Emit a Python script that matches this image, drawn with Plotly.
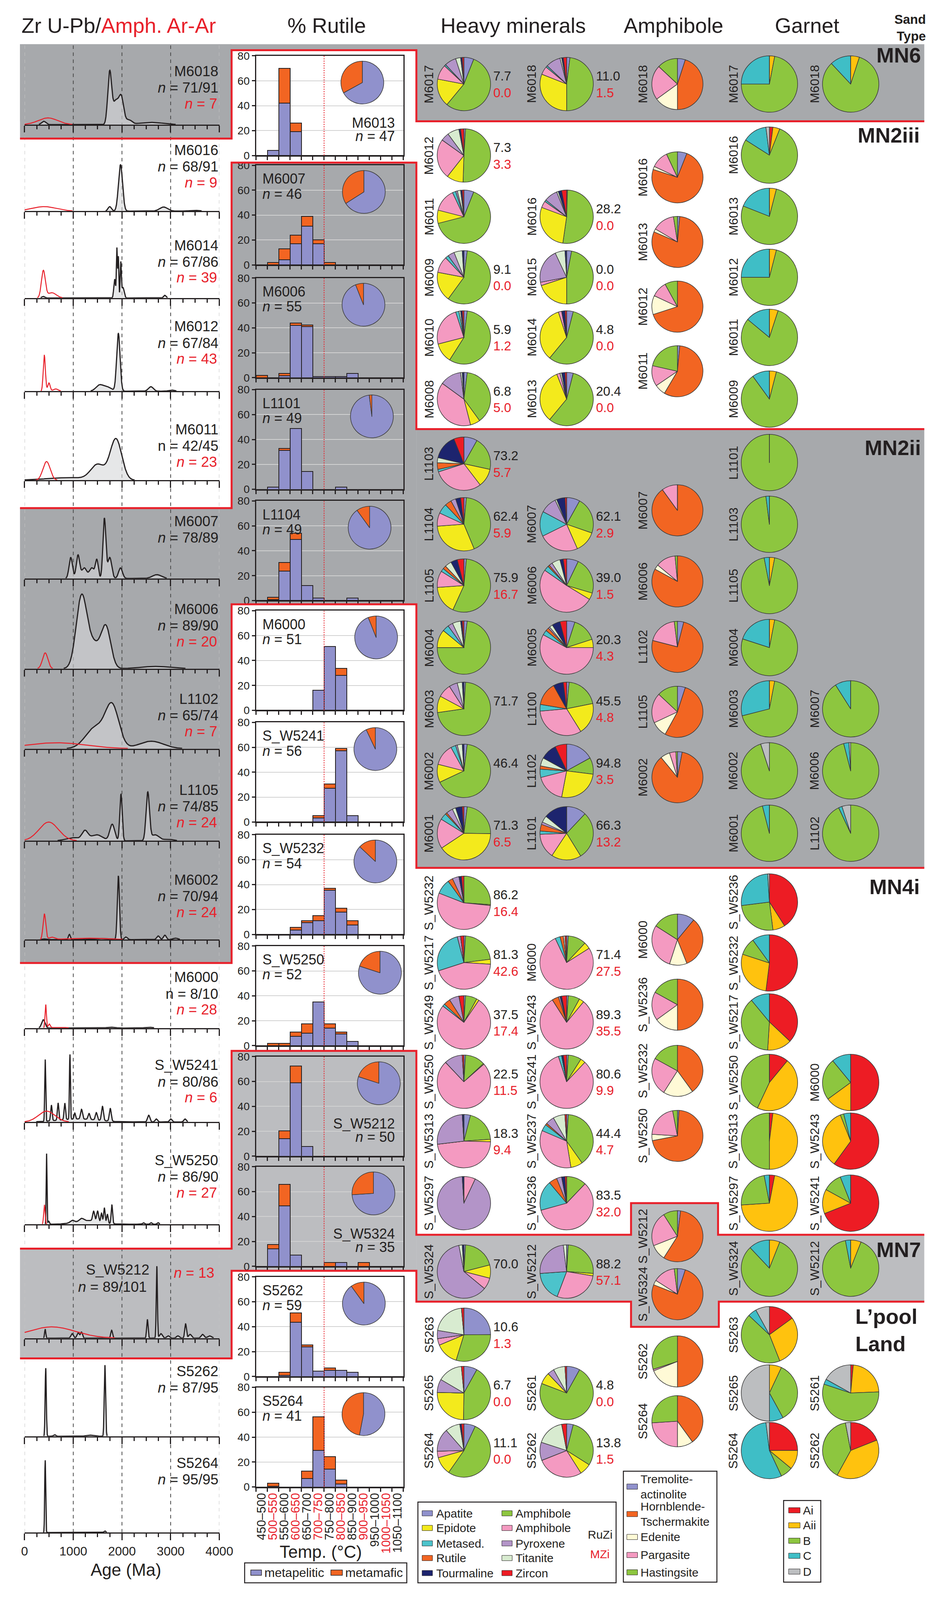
import numpy as np
import plotly.graph_objects as go

W, H = 2435, 4224
INK = "#231F20"
RED = "#E8202A"
GREY = "#A7A9AC"
GREY_MN7 = "#BCBDC0"
FONT = "Liberation Sans, Arial, Helvetica, sans-serif"

# ======================= DATA =======================
# --- Zircon U-Pb / amphibole Ar-Ar KDEs (peak components:
#     (age Ma, relative density, kernel width Ma)) ---
KDE_SAMPLES = ["M6018", "M6016", "M6014", "M6012", "M6011", "M6007", "M6006", "L1102",
               "L1105", "M6002", "M6000", "S_W5241", "S_W5250", "S_W5212", "S5262", "S5264"]
KDE_ZR_N = ["71/91", "68/91", "67/86", "67/84", "42/45", "78/89", "89/90", "65/74",
            "74/85", "70/94", "8/10", "80/86", "86/90", "89/101", "87/95", "95/95"]
KDE_AR_N = ["7", "9", "39", "43", "23", None, "20", "7", "24", "24", "28", "6", "27", "13", None, None]
KDE_N_UPRIGHT = ["M6011", "M6000"]
ZR_PEAKS = [
    [(394, 0.045, 45), (1748, 0.70, 40), (1870, 0.30, 55), (1985, 0.36, 50), (2140, 0.06, 60), (2600, 0.03, 250)],
    [(1749, 0.06, 35), (1970, 0.62, 42), (2854, 0.055, 80), (3500, 0.01, 100)],
    [(385, 0.02, 30), (1850, 0.25, 18), (1895, 0.66, 10), (1925, 0.55, 10), (1975, 0.46, 12), (2020, 0.14, 25), (2880, 0.035, 25)],
    [(1528, 0.07, 70), (1680, 0.06, 90), (1926, 0.77, 35), (2594, 0.06, 50), (3020, 0.015, 60)],
    [(900, 0.035, 450), (1500, 0.20, 140), (1876, 0.55, 120)],
    [(948, 0.28, 35), (1097, 0.31, 35), (1225, 0.14, 50), (1380, 0.14, 50), (1484, 0.24, 30), (1639, 0.80, 30),
     (1749, 0.28, 40), (1970, 0.14, 40), (2716, 0.05, 90)],
    [(1170, 0.96, 110), (1420, 0.30, 120), (1670, 0.55, 100), (2700, 0.03, 300)],
    [(1450, 0.28, 200), (1800, 0.55, 140), (2600, 0.10, 250)],
    [(1000, 0.04, 150), (1240, 0.12, 60), (1480, 0.08, 120), (1800, 0.22, 50), (1980, 0.62, 25), (2530, 0.64, 35),
     (2680, 0.08, 80), (2950, 0.02, 100)],
    [(395, 0.01, 40), (920, 0.07, 20), (1500, 0.015, 200), (1926, 0.85, 22), (2080, 0.035, 30), (2743, 0.05, 30),
     (2881, 0.06, 30), (3100, 0.02, 50)],
    [(385, 0.11, 35), (1777, 0.01, 80), (2550, 0.01, 80)],
    [(423, 0.83, 10), (550, 0.21, 15), (688, 0.23, 15), (826, 0.22, 15), (931, 0.87, 10), (1031, 0.08, 15),
     (1100, 0.04, 400), (1169, 0.13, 20), (1324, 0.08, 20), (1473, 0.10, 20), (1600, 0.19, 20), (1760, 0.17, 20),
     (2550, 0.09, 25), (2705, 0.04, 25), (3003, 0.04, 25), (3296, 0.04, 25)],
    [(451, 0.95, 8), (495, 0.04, 15), (976, 0.03, 40), (1169, 0.035, 40), (1300, 0.05, 250), (1418, 0.13, 20),
     (1500, 0.14, 20), (1580, 0.12, 15), (1638, 0.20, 15), (1700, 0.12, 15), (1793, 0.25, 15), (2440, 0.02, 20),
     (2600, 0.02, 20), (2743, 0.02, 20)],
    [(423, 0.12, 12), (976, 0.06, 25), (1100, 0.07, 25), (1169, 0.08, 20), (1788, 0.105, 18), (2522, 0.25, 15),
     (2716, 0.96, 12), (2800, 0.06, 30), (2950, 0.03, 30), (3150, 0.03, 30), (3307, 0.19, 18), (3400, 0.05, 30),
     (3655, 0.05, 30), (3800, 0.03, 40)],
    [(434, 0.91, 12), (617, 0.02, 25), (1300, 0.01, 60), (1390, 0.01, 60), (1650, 0.95, 14)],
    [(423, 0.97, 10), (1650, 0.02, 20)],
]
AR_PEAKS = [
    [(480, 0.09, 200)],
    [(400, 0.06, 250)],
    [(385, 0.36, 40), (560, 0.07, 90)],
    [(405, 0.48, 22), (500, 0.11, 25), (640, 0.03, 50)],
    [(451, 0.25, 75)],
    [],
    [(423, 0.21, 55)],
    [(650, 0.08, 600)],
    [(495, 0.25, 200)],
    [(407, 0.34, 28), (560, 0.03, 60), (1300, 0.02, 400)],
    [(434, 0.31, 14), (506, 0.05, 20), (700, 0.01, 150)],
    [(451, 0.145, 170)],
    [(407, 0.26, 15)],
    [(560, 0.15, 480)],
    [],
    [],
]
AGE_TICKS = [0, 1000, 2000, 3000, 4000]

# --- Rutile thermometry (% per temperature bin) ---
TEMP_BINS = ["450–500", "500–550", "550–600", "600–650", "650–700", "700–750", "750–800",
             "800–850", "850–900", "900–950", "950–1000", "1000–1050", "1050–1100"]
RUT_SAMPLES = ["M6013", "M6007", "M6006", "L1101", "L1104", "M6000", "S_W5241", "S_W5232",
               "S_W5250", "S_W5212", "S_W5324", "S5262", "S5264"]
RUT_N = [47, 46, 55, 49, 49, 51, 56, 54, 52, 50, 35, 59, 41]
RUT_METAPELITIC = [
    [0, 4, 42, 19, 0, 0, 0, 0, 0, 0, 0, 0, 0],
    [0, 0, 4, 17, 31, 17, 0, 0, 0, 0, 0, 0, 0],
    [0, 0, 1.5, 42, 41, 1, 1, 1, 3.5, 0, 0, 0, 0],
    [0, 2, 31.5, 49, 14.5, 0, 0, 2, 0, 0, 0, 0, 0],
    [0, 0.5, 23.5, 49, 12, 2, 0, 0, 2, 0, 0, 0, 0],
    [0, 0, 0, 0, 0, 16, 51, 28, 0, 0, 0, 0, 0],
    [0, 0, 0, 0, 0, 3, 27, 57, 5, 0, 0, 0, 0],
    [0, 0, 0, 3.5, 9.5, 11, 35.5, 18, 7.5, 0, 0, 0, 0],
    [0, 0, 0, 7.5, 10, 35, 14, 9.5, 3.5, 0, 0, 0, 0],
    [0, 0, 14, 59, 8, 0, 0, 0, 0, 0, 0, 0, 0],
    [0, 14, 48.5, 9, 0, 0, 0, 3, 0, 0, 0, 0, 0],
    [0, 0, 1, 43.5, 24, 4.5, 5, 5, 3.5, 0, 0, 0, 0],
    [0, 0.5, 0, 0, 7, 29.5, 14.5, 2.5, 0, 0, 0, 0, 0],
]
RUT_METAMAFIC = [
    [0, 0, 28, 7, 0, 0, 0, 0, 0, 0, 0, 0, 0],
    [0, 2, 9, 7, 8, 3, 2, 0, 0, 0, 0, 0, 0],
    [2, 0, 2, 2, 1.5, 0, 0, 0, 0, 0, 0, 0, 0],
    [0, 0, 1.5, 0, 0, 0, 0, 0, 0, 0, 0, 0, 0],
    [0, 2, 7, 5, 0, 0, 0, 0, 0, 0, 0, 0, 0],
    [0, 0, 0, 0, 0, 0, 0, 5.5, 0, 0, 0, 0, 0],
    [0, 0, 0, 0, 0, 2, 3.5, 2, 0, 0, 0, 0, 0],
    [0, 0, 0, 2, 1.5, 4, 1.5, 3, 3.5, 0, 0, 0, 0],
    [0, 2, 2, 3.5, 7.5, 0, 3.5, 1.5, 0, 0, 0, 0, 0],
    [0, 0, 6.5, 13.5, 0, 0, 0, 0, 0, 0, 0, 0, 0],
    [0, 3.5, 17.5, 0, 0, 0, 3, 0, 0, 3, 0, 0, 0],
    [0, 0, 2.5, 7.5, 1.5, 0, 2, 0, 0, 0, 0, 0, 0],
    [0, 2.5, 0, 0, 6, 27, 10, 3, 0, 0, 0, 0, 0],
]
RUT_MAFIC_SHARE = [33, 34, 6, 2, 10, 6, 7, 13, 20, 20, 26, 10, 47]
RUT_THRESHOLD_BIN = 5.5   # 750 °C boundary

# --- Heavy minerals (% of each component) ---
HM_MINERALS = ["Apatite", "Amphibole (green)", "Epidote", "Amphibole (pink)", "Metased.",
               "Rutile", "Pyroxene", "Titanite", "Tourmaline", "Zircon"]
HM_SAMPLES = ["M6017", "M6018", "M6012", "M6011", "M6009", "M6010", "M6008", "M6016", "M6015", "M6014", "M6013",
              "L1103", "L1104", "L1105", "M6004", "M6003", "M6002", "M6001", "M6007", "M6006", "M6005", "L1100",
              "L1102", "L1101", "S_W5232", "S_W5217", "S_W5249", "S_W5250", "S_W5313", "S_W5297", "M6000",
              "S_W5243", "S_W5241", "S_W5237", "S_W5236", "S_W5324", "S_W5212", "S5263", "S5265", "S5264",
              "S5261", "S5262"]
HM_PERCENT = [
    [6, 55, 17, 9, 1, 0, 7, 3, 1, 1], [2, 48, 31, 5, 1, 0, 9, 1, 1, 2], [1, 49, 10, 24, 0, 0, 5, 7, 1, 2],
    [6, 65, 8, 14, 2, 0, 1, 2, 1, 1], [2, 58, 18, 10, 2, 0, 4, 5, 1, 0], [2, 57, 12, 24, 2, 0, 0, 1, 1, 1],
    [2, 38, 6, 39, 0, 0, 13, 1, 1, 0], [0.5, 51, 28, 4, 1, 0, 8, 1, 2, 3], [3, 47, 20, 2, 0, 0, 21, 6, 1, 0],
    [4, 57, 34, 2, 0, 0, 0, 0, 2, 1], [4, 57, 33, 2, 0, 0, 0, 1, 2, 1],
    [8, 20, 11, 30, 1.5, 4, 0, 3, 15, 6], [1.5, 42, 30, 8, 6, 4, 3, 0, 3, 2], [1.5, 55, 17, 10, 2, 2, 0, 4, 4, 4],
    [2, 73, 11, 0, 4, 0, 3, 5, 1, 1], [1, 71, 10, 8, 0, 0, 5, 3, 1, 0], [2, 66, 11, 13, 3, 0, 1, 3, 1, 0],
    [2, 23, 40, 18, 4, 1, 4, 2, 4, 1], [8, 22, 13, 24, 15, 0, 10, 1, 5, 1], [7, 22, 4, 50, 3, 1, 2, 5, 2, 2],
    [5, 15, 5, 58, 3, 2, 1, 2, 5, 4], [1.5, 20, 19, 32, 4, 14, 0, 0, 6, 2], [17, 10, 26, 18, 5, 2, 0, 5, 10, 7],
    [12, 29, 18, 15, 2, 4, 1.5, 4, 14, 0],
    [0, 26, 0.5, 54, 9, 3, 4, 0, 1.5, 1.5], [1, 22, 3, 44, 26, 0, 2, 0, 0, 2], [1, 7, 1.5, 76, 1.5, 4, 6, 0, 0, 3],
    [1, 12, 0.5, 74, 0, 0, 11, 0, 0, 1], [4, 20, 1.5, 48, 0, 0, 26, 0, 1, 0], [0, 0, 0, 7, 0, 0, 92, 0, 1, 0],
    [1, 11, 4, 77, 3, 2, 0, 1, 0, 1], [1, 7, 3, 80, 0, 4, 1, 0, 1, 3], [1, 8, 3, 83, 2, 0, 0, 0, 1, 2],
    [1, 38, 7, 33, 4, 1, 5, 7, 0, 1], [0, 12, 0, 58, 18, 5, 3, 0, 2, 1],
    [1, 20, 8, 7, 0, 0, 61, 2, 1, 0], [1, 25, 1.5, 28, 18, 0, 24, 2, 0, 0],
    [25, 30, 14, 4, 0, 0, 5, 21, 0, 1.5], [8, 42, 25, 0, 0, 0, 8, 15, 0, 1.5], [7, 53, 11, 4, 0, 0, 14, 9, 1, 1.5],
    [8, 72, 7, 0, 0, 0, 4, 7, 0, 1], [4, 30, 7, 28, 0, 0, 11, 17, 0, 3],
]
HM_RUZI = ["7.7", "11.0", "7.3", None, "9.1", "5.9", "6.8", "28.2", "0.0", "4.8", "20.4",
           "73.2", "62.4", "75.9", None, "71.7", "46.4", "71.3", "62.1", "39.0", "20.3", "45.5", "94.8", "66.3",
           "86.2", "81.3", "37.5", "22.5", "18.3", None, "71.4", "89.3", "80.6", "44.4", "83.5",
           "70.0", "88.2", "10.6", "6.7", "11.1", "4.8", "13.8"]
HM_MZI = ["0.0", "1.5", "3.3", None, "0.0", "1.2", "5.0", "0.0", "0.0", "0.0", "0.0",
          "5.7", "5.9", "16.7", None, None, None, "6.5", "2.9", "1.5", "4.3", "4.8", "3.5", "13.2",
          "16.4", "42.6", "17.4", "11.5", "9.4", None, "27.5", "35.5", "9.9", "4.7", "32.0",
          None, "57.1", "1.3", "0.0", "0.0", "0.0", "1.5"]

# --- Amphibole composition (%) ---
AMPH_TYPES = ["Tremolite-actinolite", "Hornblende-Tschermakite", "Edenite", "Pargasite", "Hastingsite"]
AMPH_SAMPLES = ["M6018", "M6016", "M6013", "M6012", "M6011", "M6007", "M6006", "L1102", "L1105", "M6002",
                "M6000", "S_W5236", "S_W5232", "S_W5250", "S_W5212", "S_W5324", "S5262", "S5264"]
AMPH_PERCENT = [
    [5, 45, 15, 22, 13], [6, 74, 2, 11, 7], [1.5, 80, 2, 14, 2.5], [0, 70, 12, 10, 8], [1.5, 57, 7, 13, 21.5],
    [0, 90, 0, 10, 0], [0, 83, 3, 12.5, 1.5], [4, 75, 0, 19, 2], [5, 53, 10, 19, 13], [3, 86, 6, 4, 1],
    [11, 33, 11, 29, 16], [0, 50, 15, 18, 17], [0, 40, 19, 24, 17], [1, 71, 4, 21, 3],
    [2, 57, 10, 22, 9], [5, 76, 3, 14, 2], [0, 50, 19, 1, 30], [0, 40, 10, 24, 26],
]

# --- Garnet types (%) ---
GARNET_TYPES = ["Ai", "Aii", "B", "C", "D"]
GARNET_SAMPLES = ["M6017", "M6018", "M6016", "M6013", "M6012", "M6011", "M6009",
                  "L1101", "L1103", "L1105", "M6004", "M6003", "M6002", "M6001", "M6007", "M6006", "L1102",
                  "S_W5236", "S_W5232", "S_W5217", "S_W5250", "S_W5313", "S_W5297", "M6000", "S_W5243", "S_W5241",
                  "S_W5324", "S_W5212", "S5263", "S5265", "S5264", "S5261", "S5262"]
GARNET_PERCENT = [
    [0, 3, 72, 25, 0], [0, 5, 83, 12, 0], [2, 4, 78, 14, 2], [0, 4, 77, 19, 0], [0, 4, 71, 25, 0],
    [0, 5, 81, 14, 0], [0, 4, 86, 10, 0],
    [0, 0, 100, 0, 0], [0, 0, 98, 2, 0], [0, 3, 94, 3, 0], [0, 3, 77, 20, 0], [0, 3, 68, 29, 0],
    [0, 0, 95, 0, 5], [0, 0, 96, 4, 0], [0, 0, 91, 9, 0], [0, 0, 96, 3, 1], [0, 0, 93, 2, 5],
    [41, 7, 25, 26, 1], [52, 28, 10, 10, 0], [37, 14, 38, 11, 0], [11, 46, 43, 0, 0], [2, 48, 50, 0, 0],
    [3, 71, 23, 3, 0], [50, 15, 24, 11, 0], [60, 34, 2, 4, 0], [69, 14, 11, 6, 0],
    [0, 6, 82, 12, 0], [0, 6, 91, 3, 0],
    [15, 29, 43, 5, 8], [0, 7, 35, 8, 50], [25, 11, 7, 55, 2], [1.5, 23, 56, 3, 17], [19, 39, 39, 0, 3],
]

SAND_TYPES = ["MN6", "MN2iii", "MN2ii", "MN4i", "MN7", "L’pool<br>Land"]

# ======================= STYLE / LAYOUT =======================
C_PEL = "#9091CC"
C_MAF = "#F26522"
HM_COLORS = ["#9091CC", "#8DC63F", "#F3EA1C", "#F49AC1", "#4CC3CB", "#F26522", "#B394C8", "#D8EBD0", "#1D246E", "#ED1C24"]
AMPH_COLORS = ["#9091CC", "#F26522", "#FFFAD6", "#F49AC1", "#8DC63F"]
GARNET_COLORS = ["#ED1C24", "#FFC20E", "#8DC63F", "#3FBEC6", "#BCBEC0"]

KDE_X0, KDE_X1 = 55, 563
KDE_BASE = [316, 546, 777, 1025, 1262, 1523, 1763, 1976, 2221, 2484, 2719, 2969, 3241, 3544, 3805, 4061]
KDE_PANEL_H = 205
KDE_LABEL_TOP = [-142, -162, -140, -172, -135, -152, -158, -132, -135, -159, -135, -151, -170, None, -173, -185]

RUT_X0, RUT_X1 = 659, 1043
RUT_TOP = [133, 424, 724, 1021, 1317, 1609, 1906, 2205, 2501, 2795, 3088, 3381, 3675]
RUT_H = 265
RUT_PIE_X = [936, 940, 939, 961, 955, 972, 970, 970, 982, 979, 965, 940, 939]
RUT_LABEL_BR = ["M6013", "S_W5212", "S_W5324"]

HM_COL_X = [1201, 1469]
HM_POS = [(0, 208), (1, 208), (0, 398), (0, 561), (0, 722), (0, 882), (0, 1046), (1, 561), (1, 722), (1, 882),
          (1, 1046), (0, 1218), (0, 1379), (0, 1542), (0, 1707), (0, 1870), (0, 2035), (0, 2201), (1, 1379),
          (1, 1542), (1, 1707), (1, 1870), (1, 2035), (1, 2201), (0, 2386), (0, 2545), (0, 2704), (0, 2862),
          (0, 3020), (0, 3185), (1, 2545), (1, 2704), (1, 2862), (1, 3020), (1, 3185), (0, 3367), (1, 3367),
          (0, 3535), (0, 3690), (0, 3843), (1, 3690), (1, 3843)]
AMPH_X = 1758
AMPH_Y = [208, 456, 628, 800, 972, 1342, 1531, 1705, 1878, 2052, 2484, 2657, 2833, 3006, 3273, 3427, 3606, 3765]
GAR_COL_X = [1998, 2210]
GAR_POS = [(0, 208), (1, 208), (0, 397), (0, 560), (0, 722), (0, 882), (0, 1046),
           (0, 1215), (0, 1379), (0, 1542), (0, 1707), (0, 1870), (0, 2035), (0, 2201), (1, 1870), (1, 2035),
           (1, 2201), (0, 2384), (0, 2546), (0, 2703), (0, 2864), (0, 3020), (0, 3185), (1, 2864), (1, 3020),
           (1, 3185), (0, 3358), (1, 3358), (0, 3535), (0, 3690), (0, 3843), (1, 3690), (1, 3843)]
SAND_POS = [(2394, 131, "right"), (2391, 344, "right"), (2394, 1175, "right"), (2391, 2343, "right"),
            (2394, 3309, "right"), (2221, 3523, "left")]

fig = go.Figure()
layout = dict(width=W, height=H, margin=dict(l=0, r=0, t=0, b=0, pad=0), paper_bgcolor="white",
              plot_bgcolor="rgba(0,0,0,0)", showlegend=False, barmode="stack", bargap=0,
              font=dict(family=FONT, color=INK))
shapes, annotations = [], []


def fx(x):
    return x / W


def fy(y):
    return 1 - y / H


def text(x, y, s, size=30, color=INK, xanchor="center", yanchor="middle", angle=0):
    annotations.append(dict(x=fx(x), y=fy(y), xref="paper", yref="paper", text=s, showarrow=False,
                            font=dict(size=size, color=color, family=FONT), xanchor=xanchor, yanchor=yanchor,
                            align=("left" if xanchor == "left" else "right" if xanchor == "right" else "center"),
                            textangle=angle, borderpad=0))


def rect(x0, y0, x1, y1, fill, line_color=None, lw=0, layer="below"):
    shapes.append(dict(type="rect", xref="paper", yref="paper", x0=fx(x0), x1=fx(x1), y0=fy(y1), y1=fy(y0),
                       fillcolor=fill, line=dict(color=line_color or fill, width=lw), layer=layer))


def polyline(pts, color=RED, lw=5):
    d = "M" + " L".join(f"{fx(x):.5f},{fy(y):.5f}" for x, y in pts)
    shapes.append(dict(type="path", xref="paper", yref="paper", path=d, line=dict(color=color, width=lw),
                       layer="above"))


def pie(values, colors, cx, cy, r, lw=1.5):
    fig.add_trace(go.Pie(values=values, marker=dict(colors=colors, line=dict(color="#3A3A3A", width=lw)),
                         sort=False, direction="clockwise", rotation=0, textinfo="none", hoverinfo="skip",
                         showlegend=False,
                         domain=dict(x=[fx(cx - r), fx(cx + r)], y=[fy(cy + r), fy(cy - r)])))


# ---------- background group panels ----------
rect(43, 102, 2402, 307, GREY)
rect(43, 102, 595, 353, GREY)
rect(595, 118, 1077, 417, "white")
rect(43, 1336, 595, 2546, GREY)
rect(595, 417, 1077, 1592, GREY)
rect(1077, 1126, 2402, 2293, GREY)
rect(43, 3306, 595, 3598, GREY_MN7)
rect(595, 2780, 1077, 3365, GREY_MN7)
rect(1077, 3269, 2402, 3447, GREY_MN7)
rect(1637, 3185, 1864, 3514, GREY_MN7)

# ---------- KDE column ----------
ages = np.arange(0, 4000.1, 2.0)


def density(peaks, eps=0.004):
    y = np.zeros_like(ages)
    for mu, h, s in peaks:
        y += h * np.exp(-0.5 * ((ages - mu) / s) ** 2)
    idx = np.where(y > eps)[0]          # draw only the supported part of the curve
    a, b = max(idx[0] - 1, 0), min(idx[-1] + 2, len(y))
    return ages[a:b], y[a:b]


nk = len(KDE_SAMPLES)
for i, name in enumerate(KDE_SAMPLES):
    k = i + 1
    xa, ya = f"x{k}", f"y{k}"
    base = KDE_BASE[i]
    layout[f"xaxis{k}"] = dict(domain=[fx(KDE_X0), fx(KDE_X1)], range=[0, 4000], anchor=ya, showline=True,
                               linecolor=INK, linewidth=3, ticks="outside", tick0=0, dtick=1000, ticklen=17,
                               tickwidth=3, tickcolor=INK,
                               minor=dict(dtick=250, tick0=0, ticks="outside", ticklen=9, tickwidth=3, tickcolor=INK),
                               showgrid=False, zeroline=False, showticklabels=(i == nk - 1),
                               tickfont=dict(size=32, color=INK), fixedrange=True)
    layout[f"yaxis{k}"] = dict(domain=[fy(base), fy(base - KDE_PANEL_H)], range=[0, 1.03], anchor=xa,
                               visible=False, fixedrange=True)
    zx, zy = density(ZR_PEAKS[i])
    fig.add_trace(go.Scatter(x=zx, y=zy, mode="lines", line=dict(color=INK, width=3),
                             fill="tozeroy", fillcolor="rgba(214,215,217,0.6)", xaxis=xa, yaxis=ya,
                             hoverinfo="skip", showlegend=False))
    if AR_PEAKS[i]:
        rx, ry = density(AR_PEAKS[i])
        fig.add_trace(go.Scatter(x=rx, y=ry, mode="lines", line=dict(color=RED, width=2.5),
                                 xaxis=xa, yaxis=ya, hoverinfo="skip", showlegend=False))
    nlab = ("n" if name in KDE_N_UPRIGHT else "<i>n</i>") + " = " + KDE_ZR_N[i]
    if KDE_LABEL_TOP[i] is None:   # S_W5212 label layout
        text(382, base - 182, name, 37, xanchor="right")
        text(375, base - 136, nlab, 37, xanchor="right")
        text(551, base - 174, f"<i>n</i> = {KDE_AR_N[i]}", 37, RED, xanchor="right")
    else:
        t0 = base + KDE_LABEL_TOP[i]
        text(561, t0, name, 37, xanchor="right")
        text(561, t0 + 44, nlab, 37, xanchor="right")
        if KDE_AR_N[i]:
            text(558, t0 + 86, f"<i>n</i> = {KDE_AR_N[i]}", 37, RED, xanchor="right")

for a in AGE_TICKS:
    edge = a in (0, 4000)
    shapes.append(dict(type="line", xref=f"x{nk}", yref="paper", x0=a, x1=a, y0=fy(4061), y1=fy(102),
                       line=dict(color="#C4C4C4" if edge else "#4A4A4A", width=2, dash="dash"), layer="below"))
text(319, 4160, "Age (Ma)", 44)

# ---------- Rutile column ----------
tick_text = [t if j % 2 == 0 else f"<span style='color:{RED}'>{t}</span>" for j, t in enumerate(TEMP_BINS)]
bins = list(range(len(TEMP_BINS)))
nr = len(RUT_SAMPLES)
for j, name in enumerate(RUT_SAMPLES):
    k = nk + 1 + j
    xa, ya = f"x{k}", f"y{k}"
    top = RUT_TOP[j]
    bot = top + RUT_H
    layout[f"xaxis{k}"] = dict(domain=[fx(RUT_X0), fx(RUT_X1)], range=[-0.5, len(bins) - 0.5], anchor=ya,
                               showline=True, mirror=True, linecolor=INK, linewidth=3, ticks="",
                               tickvals=bins, ticktext=tick_text, tickangle=-90, showticklabels=(j == nr - 1),
                               tickfont=dict(size=31, color=INK),
                               minor=dict(tickmode="array", tickvals=[b - 0.5 for b in bins] + [bins[-1] + 0.5],
                                          ticks="outside", ticklen=9, tickwidth=2.5, tickcolor=INK),
                               showgrid=False, zeroline=False, fixedrange=True)
    layout[f"yaxis{k}"] = dict(domain=[fy(bot), fy(top)], range=[0, 80], anchor=xa, showline=True, mirror=True,
                               linecolor=INK, linewidth=3, ticks="outside", ticklen=8, tickwidth=2.5,
                               tickcolor=INK, tickvals=[0, 20, 40, 60, 80], tickfont=dict(size=28, color=INK),
                               showgrid=True, gridcolor="#D2D2D2", gridwidth=2, zeroline=False, fixedrange=True)
    fig.add_trace(go.Bar(x=bins, y=RUT_METAPELITIC[j], width=1, marker=dict(color=C_PEL, line=dict(color=INK, width=2)),
                         xaxis=xa, yaxis=ya, hoverinfo="skip", showlegend=False))
    fig.add_trace(go.Bar(x=bins, y=RUT_METAMAFIC[j], width=1, marker=dict(color=C_MAF, line=dict(color=INK, width=2)),
                         xaxis=xa, yaxis=ya, hoverinfo="skip", showlegend=False))
    shapes.append(dict(type="line", xref=xa, yref=ya, x0=RUT_THRESHOLD_BIN, x1=RUT_THRESHOLD_BIN, y0=0, y1=80,
                       line=dict(color=RED, width=2, dash="dot"), layer="above"))
    pie([100 - RUT_MAFIC_SHARE[j], RUT_MAFIC_SHARE[j]], [C_PEL, C_MAF], RUT_PIE_X[j], top + 71, 57)
    if name in RUT_LABEL_BR:
        text(1022, bot - 87, name, 36, xanchor="right")
        text(1022, bot - 51, f"<i>n</i> = {RUT_N[j]}", 36, xanchor="right")
    else:
        text(674, top + 36, name, 36, xanchor="left")
        text(674, top + 76, f"<i>n</i> = {RUT_N[j]}", 36, xanchor="left")
text(828, 4112, "Temp. (°C)", 44)
rect(629, 4142, 1052, 4195, "white", INK, 2.5, layer="above")
rect(645, 4161, 673, 4175, C_PEL, INK, 1.5, layer="above")
text(680, 4168, "metapelitic", 32, xanchor="left")
rect(854, 4161, 884, 4175, C_MAF, INK, 1.5, layer="above")
text(890, 4168, "metamafic", 32, xanchor="left")

# ---------- Heavy minerals ----------
for i, name in enumerate(HM_SAMPLES):
    col, cy = HM_POS[i]
    cx = HM_COL_X[col]
    pie(HM_PERCENT[i], HM_COLORS, cx, cy, 71)
    text(cx - 91, cy, name, 32, angle=-90)
    if HM_RUZI[i] is not None:
        text(cx + 76, cy - 21, HM_RUZI[i], 33, xanchor="left")
    if HM_MZI[i] is not None:
        text(cx + 76, cy + 23, HM_MZI[i], 33, RED, xanchor="left")

# ---------- Amphibole ----------
for i, name in enumerate(AMPH_SAMPLES):
    cy = AMPH_Y[i]
    pie(AMPH_PERCENT[i], AMPH_COLORS, AMPH_X, cy, 68)
    text(AMPH_X - 90, cy, name, 32, angle=-90)

# ---------- Garnet ----------
for i, name in enumerate(GARNET_SAMPLES):
    col, cy = GAR_POS[i]
    cx = GAR_COL_X[col]
    pie(GARNET_PERCENT[i], GARNET_COLORS, cx, cy, 75)
    text(cx - 94, cy, name, 32, angle=-90)

# ---------- sand-type labels ----------
for (x, y, anc), lab in zip(SAND_POS, SAND_TYPES):
    text(x, y, f"<b>{lab}</b>", 54, xanchor=anc)

# ---------- red group outlines ----------
polyline([(43, 353), (595, 353), (595, 118), (1077, 118), (1077, 307), (2402, 307)])
polyline([(43, 1336), (595, 1336), (595, 417), (1077, 417), (1077, 1126), (2402, 1126)])
polyline([(43, 2546), (595, 2546), (595, 1592), (1077, 1592), (1077, 2293), (2402, 2293)])
polyline([(43, 3306), (595, 3306), (595, 2780), (1077, 2780), (1077, 3269), (1637, 3269), (1637, 3185),
          (1864, 3185), (1864, 3269), (2402, 3269)])
polyline([(43, 3598), (595, 3598), (595, 3365), (1077, 3365), (1077, 3447), (1637, 3447), (1637, 3514),
          (1866, 3514), (1866, 3447), (2402, 3447)])

# ---------- headers ----------
text(46, 52, f"Zr U-Pb/<span style='color:{RED}'>Amph. Ar-Ar</span>", 54, xanchor="left")
text(843, 52, "% Rutile", 54)
text(1330, 52, "Heavy minerals", 54)
text(1748, 52, "Amphibole", 54)
text(2096, 52, "Garnet", 54)
text(2407, 58, "<b>Sand<br>Type</b>", 33, xanchor="right")

# ---------- legends ----------
rect(1081, 3980, 1598, 4195, "white", INK, 2.5, layer="above")
hm_leg_rows = [4010, 4049, 4090, 4129, 4169]
hm_leg_cols = [[0, 2, 4, 5, 8], [1, 3, 6, 7, 9]]
hm_leg_names = ["Apatite", "Amphibole", "Epidote", "Amphibole", "Metased.", "Rutile", "Pyroxene", "Titanite",
                "Tourmaline", "Zircon"]
for c, (sx, tx) in enumerate([(1092, 1128), (1300, 1335)]):
    for r, mi in enumerate(hm_leg_cols[c]):
        y = hm_leg_rows[r]
        rect(sx, y - 7, sx + 27, y + 7, HM_COLORS[mi], INK, 1, layer="above")
        text(tx, y, hm_leg_names[mi], 30, xanchor="left")
text(1556, 4067, "RuZi", 30)
text(1556, 4119, "MZi", 30, RED)

rect(1617, 3898, 1861, 4193, "white", INK, 2.5, layer="above")
amph_leg = [("Tremolite-<br>actinolite", 3939), ("Hornblende-<br>Tschermakite", 4012), ("Edenite", 4073),
            ("Pargasite", 4121), ("Hastingsite", 4167)]
for mi, (lab, y) in enumerate(amph_leg):
    rect(1626, y - 7, 1654, y + 7, AMPH_COLORS[mi], INK, 1, layer="above")
    text(1661, y, lab, 30, xanchor="left")

rect(2035, 3976, 2132, 4193, "white", INK, 2.5, layer="above")
for mi, y in enumerate([4002, 4042, 4083, 4123, 4165]):
    rect(2048, y - 7, 2078, y + 7, GARNET_COLORS[mi], INK, 1, layer="above")
    text(2085, y, GARNET_TYPES[mi], 30, xanchor="left")

layout["shapes"] = shapes
layout["annotations"] = annotations
fig.update_layout(**layout)

# fit the whole figure inside the visible browser viewport (no page margin, no cropping)
FIT_SCRIPT = (
    "document.body.style.margin='0';"
    "var gd=document.getElementById('{plot_id}');"
    "var h=Math.min(window.innerHeight||%d,%d), w=Math.min(window.innerWidth||%d,%d);"
    "if(h<%d||w<%d){Plotly.relayout(gd,{height:h,width:w});}" % (H, H, W, W, H, W)
)
fig.write_html("out.html", post_script=FIT_SCRIPT, config={"displayModeBar": False})
